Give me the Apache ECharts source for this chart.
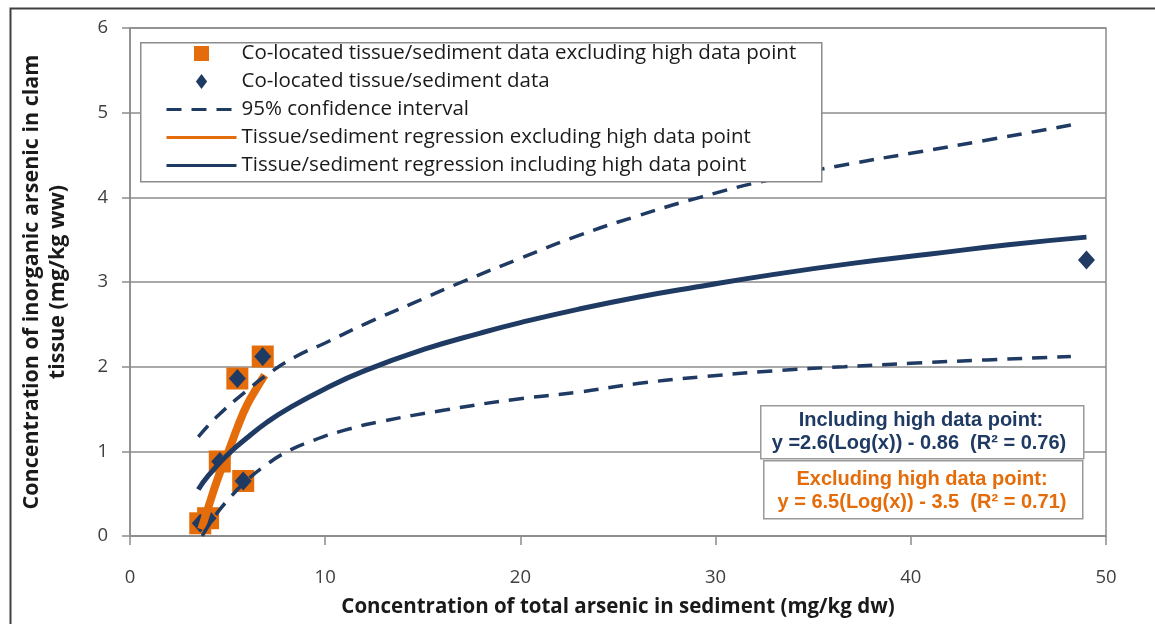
<!DOCTYPE html>
<html>
<head>
<meta charset="utf-8">
<script src="https://cdn.jsdelivr.net/npm/echarts/dist/echarts.min.js"></script>
<style>
    html, body { margin: 0; padding: 0; background: #fff; }
    #main { width: 1155px; height: 624px; }
</style>
</head>
<body>
<div id="main"></div>
<script>
// co-located points (x = sediment, y = tissue)
var exclX = [3.6, 4.0, 4.6, 5.8, 5.5, 6.8];
var exclY = [0.15, 0.21, 0.88, 0.65, 1.86, 2.12];
var allX = [3.6, 4.0, 4.6, 5.8, 5.5, 6.8, 49.0];
var allY = [0.15, 0.21, 0.88, 0.65, 1.86, 2.12, 3.26];

// regression curves
var regInclX = [3.5, 4, 5, 6, 7, 8, 10, 12, 15, 18, 20, 23, 26, 29, 33, 37, 41, 45, 49];
var regInclY = [0.55, 0.71, 0.96, 1.16, 1.34, 1.49, 1.74, 1.95, 2.20, 2.40, 2.52, 2.68, 2.82, 2.94, 3.09, 3.22, 3.33, 3.44, 3.53];
var regExclX = [3.65, 4.0, 4.5, 5.0, 5.5, 6.0, 6.5, 6.9];
var regExclY = [0.08, 0.33, 0.68, 0.97, 1.28, 1.55, 1.75, 1.90];

// 95% confidence band
var upperX = [3.5, 4.5, 6, 7, 8.5, 10, 12, 14.5, 17, 20, 23, 26, 29.2, 33, 37, 40, 44, 48.6];
var upperY = [1.17, 1.42, 1.72, 1.90, 2.12, 2.28, 2.50, 2.75, 3.00, 3.28, 3.55, 3.78, 4.00, 4.22, 4.40, 4.52, 4.68, 4.87];
var lowerX = [3.7, 4.3, 5.15, 6, 6.86, 8, 9.4, 11, 12.8, 16.2, 19.6, 23, 26, 29.3, 33, 36.6, 40, 43.9, 48.2];
var lowerY = [0.0, 0.22, 0.46, 0.66, 0.82, 0.99, 1.13, 1.25, 1.35, 1.49, 1.61, 1.70, 1.80, 1.88, 1.95, 2.00, 2.04, 2.08, 2.12];

var xTicks = [0, 50, 10];
var yTicks = [0, 6, 1];

var navy = '#1f3a63';
var orange = '#e46c0a';
var gridGray = '#8c8c8c';
var font = 'Open Sans';
var eqFont = 'bold 20px "Liberation Sans"';

function pairs(xs, ys) {
    var out = [];
    for (let i = 0; i < xs.length; i++) {
        out.push([xs[i], ys[i]]);
    }
    return out;
}

var myChart = echarts.init(document.getElementById('main'));

var option = {
    animation: false,
    backgroundColor: '#fff',
    grid: {
        left: 130,
        right: 49,
        top: 28,
        bottom: 88,
        show: true,
        borderColor: gridGray,
        borderWidth: 1.5
    },
    legend: {
        orient: 'vertical',
        left: 165,
        top: 43,
        z: 6,
        itemWidth: 70,
        itemHeight: 15,
        itemGap: 7,
        padding: 0,
        symbolKeepAspect: true,
        lineStyle: { width: 3 },
        textStyle: { fontFamily: font, fontSize: 20.5, color: '#1a1a1a', lineHeight: 21 },
        data: [
            { name: 'Co-located tissue/sediment data excluding high data point', icon: 'path://M0,0L10,0L10,10L0,10Z' },
            { name: 'Co-located tissue/sediment data', icon: 'path://M6,0L12,8L6,16L0,8Z' },
            { name: '95% confidence interval', itemStyle: { opacity: 0 } },
            { name: 'Tissue/sediment regression excluding high data point', itemStyle: { opacity: 0 } },
            { name: 'Tissue/sediment regression including high data point', itemStyle: { opacity: 0 } }
        ]
    },
    xAxis: {
        type: 'value',
        min: xTicks[0],
        max: xTicks[1],
        interval: xTicks[2],
        name: 'Concentration of total arsenic in sediment (mg/kg dw)',
        nameLocation: 'middle',
        nameGap: 61,
        nameTextStyle: { fontFamily: font, fontSize: 20.5, fontWeight: 'bold', color: '#1a1a1a' },
        axisLine: { lineStyle: { color: gridGray, width: 1.5 } },
        axisTick: { show: true, length: 9, lineStyle: { color: gridGray, width: 1.5 } },
        axisLabel: { fontFamily: font, fontSize: 18.5, color: '#404040', margin: 32 },
        splitLine: { show: false }
    },
    yAxis: {
        type: 'value',
        min: yTicks[0],
        max: yTicks[1],
        interval: yTicks[2],
        name: 'Concentration of inorganic arsenic in clam\ntissue (mg/kg ww)',
        nameLocation: 'middle',
        nameRotate: 90,
        nameGap: 59,
        nameTextStyle: { fontFamily: font, fontSize: 21.5, fontWeight: 'bold', color: '#1a1a1a', lineHeight: 26 },
        axisLine: { show: true, lineStyle: { color: gridGray, width: 1.5 } },
        axisTick: { show: true, length: 8, lineStyle: { color: gridGray, width: 1.5 } },
        axisLabel: { fontFamily: font, fontSize: 18.5, color: '#404040', margin: 22 },
        splitLine: { show: true, lineStyle: { color: gridGray, width: 1.5 } }
    },
    series: [
        {
            name: 'Co-located tissue/sediment data excluding high data point',
            type: 'scatter',
            symbol: 'rect',
            symbolSize: 22,
            itemStyle: { color: orange, opacity: 1 },
            data: pairs(exclX, exclY)
        },
        {
            name: 'Co-located tissue/sediment data',
            type: 'scatter',
            symbol: 'diamond',
            symbolSize: [17, 19],
            itemStyle: { color: navy, opacity: 1 },
            data: pairs(allX, allY)
        },
        {
            name: 'Tissue/sediment regression excluding high data point',
            type: 'line',
            smooth: true,
            symbol: 'none',
            lineStyle: { color: orange, width: 8 },
            itemStyle: { color: orange },
            data: pairs(regExclX, regExclY)
        },
        {
            name: '95% confidence interval',
            type: 'line',
            smooth: true,
            symbol: 'none',
            lineStyle: { color: navy, width: 3.5, type: [15, 10] },
            itemStyle: { color: navy },
            data: pairs(upperX, upperY)
        },
        {
            name: '95% confidence interval',
            type: 'line',
            smooth: true,
            symbol: 'none',
            lineStyle: { color: navy, width: 3.5, type: [15, 10] },
            itemStyle: { color: navy },
            data: pairs(lowerX, lowerY)
        },
        {
            name: 'Tissue/sediment regression including high data point',
            type: 'line',
            smooth: true,
            symbol: 'none',
            lineStyle: { color: navy, width: 5 },
            itemStyle: { color: navy },
            data: pairs(regInclX, regInclY)
        }
    ],
    graphic: [
        // outer chart border
        { type: 'rect', left: 8, top: 6, z: 0, silent: true,
          shape: { width: 1170, height: 650 },
          style: { fill: null, stroke: '#404040', lineWidth: 2 } },
        // legend frame
        { type: 'rect', left: 140, top: 42, z: 5, silent: true,
          shape: { width: 681, height: 139 },
          style: { fill: '#fff', stroke: gridGray, lineWidth: 1.5 } },
        // equation boxes
        { type: 'rect', left: 760, top: 405, z: 5, silent: true,
          shape: { width: 323, height: 53 },
          style: { fill: '#fff', stroke: '#9a9a9a', lineWidth: 1.5 } },
        { type: 'text', x: 921, y: 420, z: 6, silent: true,
          style: { text: 'Including high data point:', fill: navy, font: eqFont, align: 'center', verticalAlign: 'middle' } },
        { type: 'text', x: 919, y: 443, z: 6, silent: true,
          style: { text: 'y =2.6(Log(x)) - 0.86  (R\u00b2 = 0.76)', fill: navy, font: eqFont, align: 'center', verticalAlign: 'middle' } },
        { type: 'rect', left: 763, top: 460, z: 5, silent: true,
          shape: { width: 319, height: 58 },
          style: { fill: '#fff', stroke: '#9a9a9a', lineWidth: 1.5 } },
        { type: 'text', x: 922, y: 479, z: 6, silent: true,
          style: { text: 'Excluding high data point:', fill: orange, font: eqFont, align: 'center', verticalAlign: 'middle' } },
        { type: 'text', x: 922, y: 502, z: 6, silent: true,
          style: { text: 'y = 6.5(Log(x)) - 3.5  (R\u00b2 = 0.71)', fill: orange, font: eqFont, align: 'center', verticalAlign: 'middle' } }
    ]
};

option && myChart.setOption(option);
window.onresize = myChart.resize;
</script>
</body>
</html>
